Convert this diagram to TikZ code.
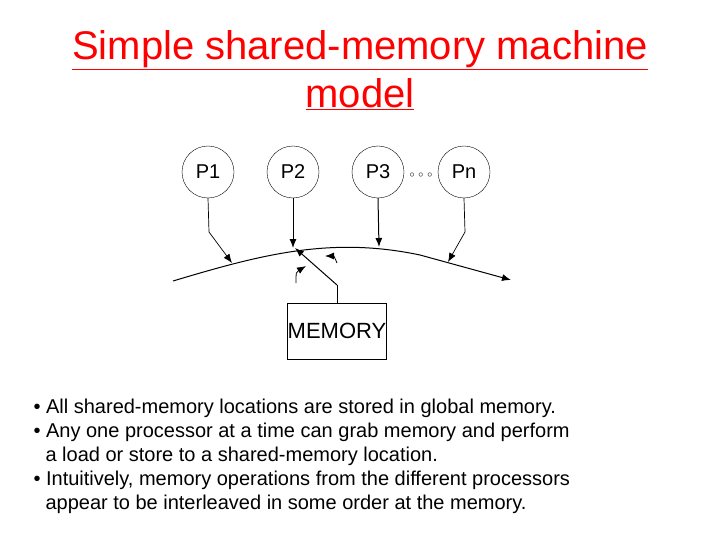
\documentclass[tikz,border=0pt]{standalone}
\usepackage{fontspec}
\setmainfont{Liberation Sans}
\usetikzlibrary{arrows.meta}
\begin{document}
\begin{tikzpicture}[x=1pt,y=1pt,yscale=-1,xscale=1,
  proc/.style={draw,circle,minimum size=52pt,inner sep=0pt,font=\fontsize{20}{24}\selectfont},
  link/.style={-{Latex[length=9pt,width=7pt]},line width=1pt}]
\useasboundingbox (0,0) rectangle (720,540);

% Title
\node[red,font=\fontsize{40}{48}\selectfont,align=center] (title) at (360,70)
  {\underline{Simple shared-memory machine}\\\underline{model}};

% Processors
\node[proc] (p1) at (208,172) {P1};
\node[proc] (p2) at (293,172) {P2};
\node[proc] (p3) at (378,172) {P3};
\node[proc] (pn) at (464,172) {Pn};
\node[font=\fontsize{10}{12}\selectfont] (dots) at (421,175) {$\circ\,\circ\,\circ$};

% Bus
\coordinate (bl) at (173,281);
\coordinate (br) at (511,280);
\draw[link] (bl) .. controls (260,255) and (330,236) .. (420,255) -- (br);

% Processor connections
\draw[link,line width=0.7pt] (p1.south) -- (209,232) -- (232,263);
\draw[link] (p2.south) -- (293,248);
\draw[link] (p3.south) -- (379,247);
\draw[link,line width=0.7pt] (pn.south) -- (465,232) -- (448,262);

% Memory and switch
\node[draw,minimum width=99pt,minimum height=56pt,inner sep=0pt,font=\fontsize{22}{26}\selectfont] (mem) at (337,331) {MEMORY};
\coordinate (sw) at (337,285);
\draw[line width=1pt] (mem.north) -- (sw);
\draw[link] (sw) -- (295,248);
\draw[link,line width=0.8pt] (296,283) .. controls (296,272) .. (306,266);
\draw[link,line width=0.8pt] (337,263) .. controls (334,256) .. (325,256);

% Text
\node[anchor=north west,align=left,font=\fontsize{20}{24}\selectfont] (txt) at (30,395)
  {\textbullet\ All shared-memory locations are stored in global memory.\\
   \textbullet\ Any one processor at a time can grab memory and perform\\
   \hspace*{12pt}a load or store to a shared-memory location.\\
   \textbullet\ Intuitively, memory operations from the different processors\\
   \hspace*{12pt}appear to be interleaved in some order at the memory.};
\end{tikzpicture}
\end{document}
